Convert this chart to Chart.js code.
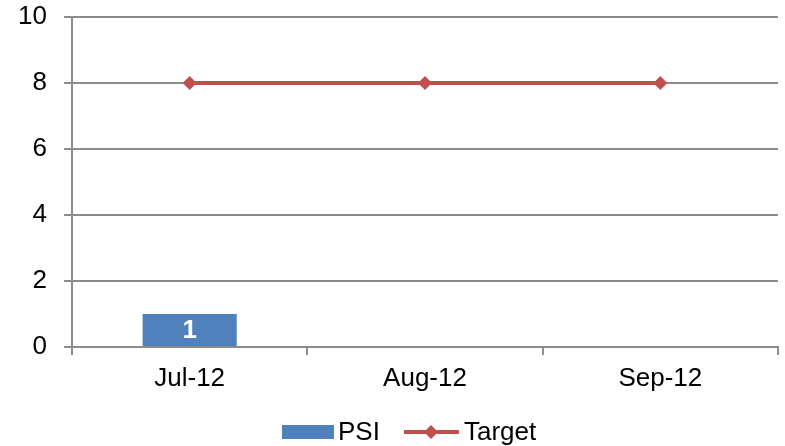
<!DOCTYPE html>
<html>
<head>
<meta charset="utf-8">
<script src="https://cdn.jsdelivr.net/npm/chart.js@4"></script>
<style>
  html, body { margin: 0; padding: 0; background: #fff; }
  #wrap { width: 785px; height: 446px; }
</style>
</head>
<body>
<div id="wrap"><canvas id="c" width="785" height="446"></canvas></div>
<script>
// Monthly PSI against target
const months = ['Jul-12', 'Aug-12', 'Sep-12'];
const psiValues = [1, null, null];
const targetValues = [8, 8, 8];
const yTicks = [0, 2, 4, 6, 8, 10];

const FONT = '"Liberation Sans", Arial, sans-serif';
const BLUE = '#4F81BD';
const RED = '#C0504D';
const GRID = '#8C8C8C';

// value label inside each bar
const barLabels = {
  id: 'barLabels',
  afterDatasetsDraw(chart) {
    const ctx = chart.ctx;
    const meta = chart.getDatasetMeta(0);
    ctx.save();
    ctx.fillStyle = '#FFFFFF';
    ctx.font = 'bold 26px ' + FONT;
    ctx.textAlign = 'center';
    ctx.textBaseline = 'middle';
    meta.data.forEach((bar, i) => {
      const v = psiValues[i];
      if (v === null || v === undefined) return;
      const mid = (bar.y + bar.base) / 2;
      ctx.fillText(String(v), bar.x, mid + 1);
    });
    ctx.restore();
  }
};

// legend below the axis: swatch + label for each series
const bottomLegend = {
  id: 'bottomLegend',
  afterDraw(chart) {
    const ctx = chart.ctx;
    const cy = 432;
    ctx.save();
    ctx.font = '26px ' + FONT;
    ctx.textBaseline = 'middle';
    ctx.textAlign = 'left';
    // PSI swatch
    ctx.fillStyle = BLUE;
    ctx.fillRect(282, cy - 7, 52, 14);
    ctx.fillStyle = '#000';
    ctx.fillText(chart.data.datasets[0].label, 338, cy + 1);
    // Target swatch
    ctx.strokeStyle = RED;
    ctx.lineWidth = 4;
    ctx.beginPath();
    ctx.moveTo(404, cy);
    ctx.lineTo(459, cy);
    ctx.stroke();
    ctx.fillStyle = RED;
    ctx.beginPath();
    ctx.moveTo(431, cy - 7);
    ctx.lineTo(438, cy);
    ctx.lineTo(431, cy + 7);
    ctx.lineTo(424, cy);
    ctx.closePath();
    ctx.fill();
    ctx.fillStyle = '#000';
    ctx.fillText(chart.data.datasets[1].label, 464, cy + 1);
    ctx.restore();
  }
};

new Chart(document.getElementById('c'), {
  data: {
    labels: months,
    datasets: [
      {
        type: 'bar',
        label: 'PSI',
        data: psiValues,
        backgroundColor: BLUE,
        barPercentage: 0.40,
        categoryPercentage: 1.0,
        order: 2
      },
      {
        type: 'line',
        label: 'Target',
        data: targetValues,
        borderColor: RED,
        backgroundColor: RED,
        borderWidth: 4,
        pointStyle: 'rectRot',
        pointRadius: 7,
        pointHoverRadius: 7,
        pointBorderWidth: 0,
        tension: 0,
        order: 1
      }
    ]
  },
  options: {
    responsive: false,
    animation: false,
    devicePixelRatio: 1,
    layout: { padding: { top: 17, right: 5, left: 0, bottom: 0 } },
    plugins: {
      legend: { display: false },
      title: { display: false },
      tooltip: { enabled: false }
    },
    scales: {
      x: {
        offset: true,
        grid: {
          offset: true,
          drawOnChartArea: false,
          drawTicks: true,
          tickLength: 8,
          color: GRID,
          lineWidth: 2
        },
        border: { display: true, color: GRID, width: 2 },
        ticks: {
          color: '#000',
          font: { family: FONT, size: 26 },
          padding: 8,
          maxRotation: 0
        },
        afterFit(scale) {
          scale.height = 99;
          scale.paddingLeft = 0;
          scale.paddingRight = 0;
        }
      },
      y: {
        min: 0,
        max: 10,
        afterBuildTicks(scale) { scale.ticks = yTicks.map(v => ({ value: v })); },
        grid: {
          color: GRID,
          lineWidth: 2,
          tickLength: 8,
          drawTicks: true
        },
        border: { display: true, color: GRID, width: 2 },
        ticks: {
          color: '#000',
          font: { family: FONT, size: 26 },
          padding: 17
        },
        afterFit(scale) {
          scale.width = 72;
          scale.paddingTop = 0;
          scale.paddingBottom = 0;
        }
      }
    }
  },
  plugins: [barLabels, bottomLegend]
});
</script>
</body>
</html>
